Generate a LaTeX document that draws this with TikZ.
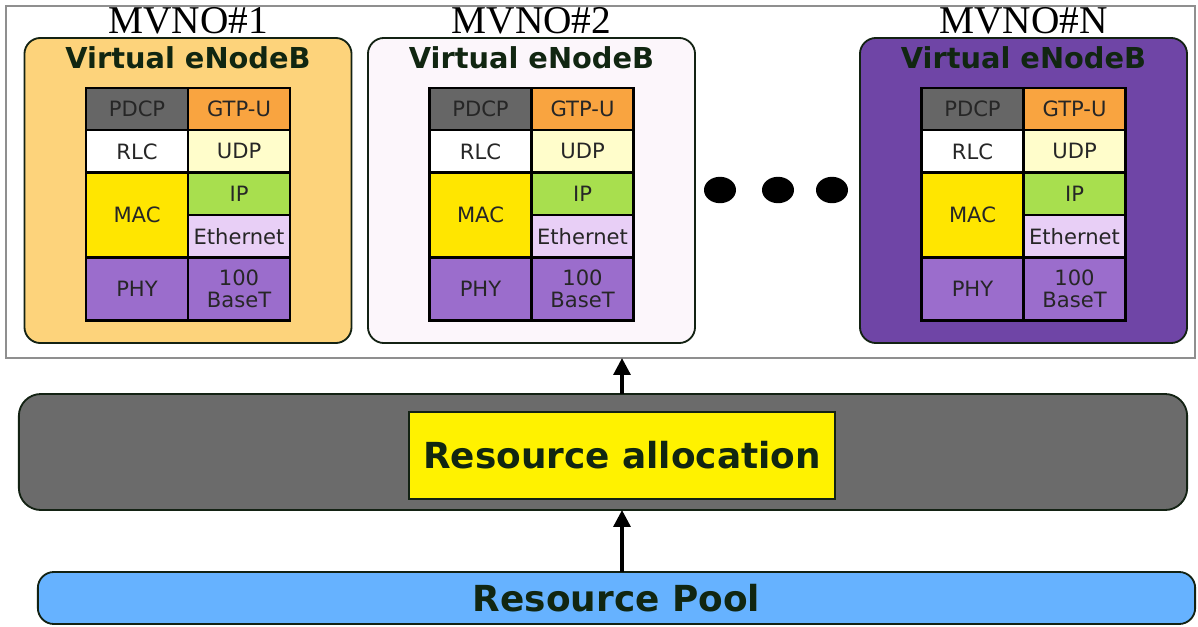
\documentclass[tikz,border=0pt]{standalone}
\usepackage{fontspec}
\setmainfont{Liberation Serif}
\newfontfamily\stackfont{DejaVu Sans}
\usepackage{tikz}
\usetikzlibrary{arrows.meta,positioning,shapes.geometric}

\definecolor{pdcpgray}{HTML}{666666}
\definecolor{gtpuorange}{HTML}{F9A440}
\definecolor{udpcream}{HTML}{FFFDCB}
\definecolor{macyellow}{HTML}{FFE600}
\definecolor{ipgreen}{HTML}{A8DF4E}
\definecolor{ethlilac}{HTML}{E8CFF6}
\definecolor{phypurple}{HTML}{9B6DCC}
\definecolor{enbone}{HTML}{FDD37B}
\definecolor{enbtwo}{HTML}{FCF6FB}
\definecolor{enbn}{HTML}{6F45A6}
\definecolor{headtext}{HTML}{112611}
\definecolor{coregray}{HTML}{6B6B6B}
\definecolor{poolblue}{HTML}{66B2FF}
\definecolor{framegray}{HTML}{8F8F8F}
\definecolor{outline}{HTML}{132213}

\tikzset{
  vbox/.style={draw=outline, line width=1.3pt, rounded corners=0.4cm,
    minimum width=8.175cm, minimum height=7.625cm, inner sep=0, outer sep=0},
  mvno/.style={font=\fontsize{28}{30}\selectfont, inner sep=0},
  vtitle/.style={font=\stackfont\bfseries\fontsize{20.5}{22}\selectfont,
    text=headtext, inner sep=0},
  layer/.style={draw=black, line width=1.6pt, minimum width=2.55cm,
    minimum height=1.06cm, inner sep=0, outer sep=0, align=center,
    font=\stackfont\fontsize{15}{16}\selectfont, text=black!85},
  bar/.style={draw=outline, line width=1.3pt, inner sep=0, outer sep=0,
    font=\stackfont\bfseries\fontsize{25.5}{27}\selectfont, text=headtext},
  dot/.style={ellipse, fill=black, minimum width=0.8cm, minimum height=0.66cm, inner sep=0},
  flow/.style={-{Triangle[width=12pt,length=12pt]}, line width=2.4pt}
}

% one virtual eNodeB with its protocol stack
% #1 name, #2 centre x, #3 fill, #4 operator
\newcommand{\enodeb}[4]{%
  \node[vbox, fill=#3] (#1) at (#2,190.5) {};
  \node[mvno] (#1-op) at (#2,21) {#4};
  \node[vtitle] (#1-title) at (#2,58) {Virtual eNodeB};
  \node[layer, fill=pdcpgray] (#1-pdcp) at (#2-51,109) {PDCP};
  \node[layer, fill=gtpuorange, right=0pt of #1-pdcp] (#1-gtpu) {GTP-U};
  \node[layer, fill=white, below=0pt of #1-pdcp] (#1-rlc) {RLC};
  \node[layer, fill=udpcream, below=0pt of #1-gtpu] (#1-udp) {UDP};
  \node[layer, fill=macyellow, minimum height=2.12cm, below=0pt of #1-rlc] (#1-mac) {MAC};
  \node[layer, fill=ipgreen, below=0pt of #1-udp] (#1-ip) {IP};
  \node[layer, fill=ethlilac, below=0pt of #1-ip] (#1-eth) {Ethernet};
  \node[layer, fill=phypurple, minimum height=1.575cm, below=0pt of #1-mac] (#1-phy) {PHY};
  \node[layer, fill=phypurple, minimum height=1.575cm, below=0pt of #1-eth] (#1-base) {100\\BaseT};
}

\begin{document}
\begin{tikzpicture}[x=0.025cm, y=-0.025cm]
  \useasboundingbox (0,0) rectangle (1198,626);

  % operators
  \node[draw=framegray, line width=1pt, minimum width=29.725cm, minimum height=8.8cm,
    inner sep=0, outer sep=0] (vnets) at (600.5,182) {};
  \enodeb{enb1}{188}{enbone}{MVNO\#1}
  \enodeb{enb2}{531.5}{enbtwo}{MVNO\#2}
  \enodeb{enbN}{1023.5}{enbn}{MVNO\#N}
  \foreach \i/\x in {1/720,2/778,3/832}
    \node[dot] (more\i) at (\x,190) {};

  % shared layers
  \node[bar, fill=coregray, rounded corners=0.55cm, minimum width=29.2cm,
    minimum height=2.9cm] (core) at (603,452) {};
  \node[bar, fill=yellow, minimum width=10.65cm, minimum height=2.175cm]
    (alloc) at (622,455.5) {Resource allocation};
  \node[bar, fill=poolblue, rounded corners=0.4cm, minimum width=28.925cm,
    minimum height=1.3cm] (pool) at (616.5,598) {Resource Pool};

  \draw[flow] (core.north -| alloc) -- (vnets.south -| alloc);
  \draw[flow] (pool.north -| alloc) -- (core.south -| alloc);
\end{tikzpicture}
\end{document}
